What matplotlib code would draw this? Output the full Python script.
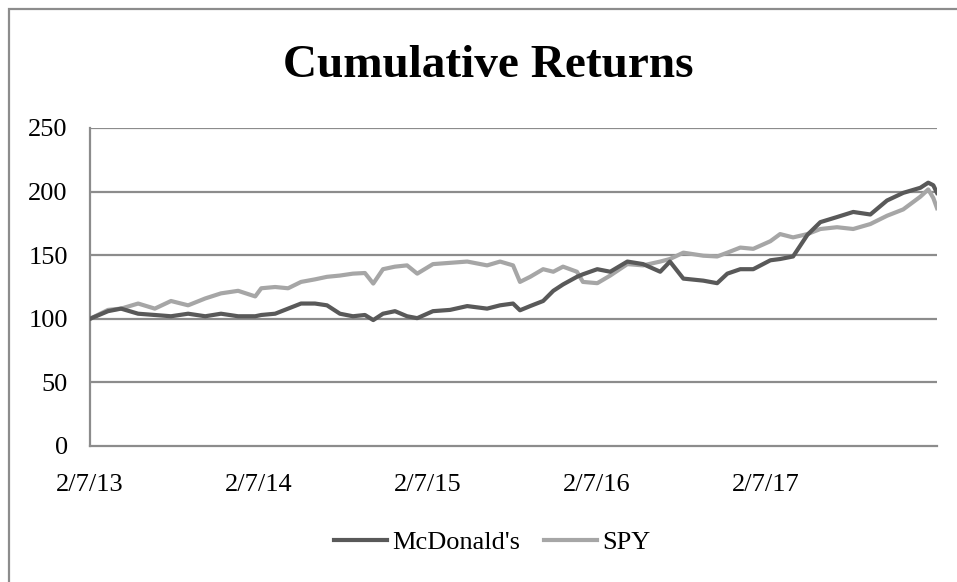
"""
Cumulative returns of McDonald's vs SPY, Excel-style line chart.
"""

import numpy as np
import pandas as pd
import matplotlib
matplotlib.use("Agg")
import matplotlib.pyplot as plt
import matplotlib.dates as mdates
from matplotlib.patches import Rectangle

# Sample dates
dates = [
    "2013-02-07", "2013-03-18", "2013-04-15", "2013-05-22", "2013-06-27", "2013-08-01",
    "2013-09-07", "2013-10-14", "2013-11-17", "2013-12-24", "2014-01-30", "2014-02-12",
    "2014-03-14", "2014-04-11", "2014-05-09", "2014-06-08", "2014-07-04", "2014-08-01",
    "2014-08-29", "2014-09-24", "2014-10-12", "2014-11-02", "2014-11-28", "2014-12-24",
    "2015-01-15", "2015-02-18", "2015-03-27", "2015-05-03", "2015-06-15", "2015-07-13",
    "2015-08-10", "2015-08-25", "2015-09-16", "2015-10-14", "2015-11-05", "2015-11-26",
    "2015-12-26", "2016-01-08", "2016-02-08", "2016-03-07", "2016-04-13", "2016-05-17",
    "2016-06-23", "2016-07-14", "2016-08-12", "2016-09-24", "2016-10-24", "2016-11-15",
    "2016-12-13", "2017-01-10", "2017-02-16", "2017-03-09", "2017-04-06", "2017-05-07",
    "2017-06-04", "2017-07-10", "2017-08-14", "2017-09-20", "2017-10-26", "2017-11-30",
    "2018-01-06", "2018-01-23", "2018-02-03", "2018-02-11",
]

mcd = [
    100, 106, 108, 104, 103, 102, 104, 102, 104, 102, 102, 103,
    104, 108, 112, 112, 110.6, 104, 102, 103, 99, 104, 106, 102,
    100.5, 106, 107, 110, 108, 110.6, 112, 106.7, 110, 114, 122, 127,
    133, 135, 139, 137, 145, 143, 137, 145, 131.6, 130, 128, 135.5,
    139, 139, 146, 147, 149, 166, 176, 180, 184, 182, 193, 199,
    203, 207, 205, 199,
]

spy = [
    100, 107, 108, 112, 108, 114, 110.6, 116, 120, 122, 117.6, 124,
    125, 124, 129, 131, 133, 134, 135.5, 136, 127.7, 139, 141, 142,
    135.5, 143, 144, 145, 142, 145, 142, 129, 133, 139, 137, 141,
    137, 129, 128, 134, 143, 142, 145, 147, 152, 149.6, 149, 152,
    156, 155, 161, 166.6, 164, 166.6, 170.6, 172, 170.6, 174.5, 181, 186,
    196, 201.7, 195, 187,
]

tick_dates = ["2013-02-07", "2014-02-07", "2015-02-07", "2016-02-07", "2017-02-07"]
tick_labels = ["2/7/13", "2/7/14", "2/7/15", "2/7/16", "2/7/17"]
y_ticks = [0, 50, 100, 150, 200, 250]

SERIF = ["Liberation Serif", "DejaVu Serif"]
GRID = "#8c8c8c"


def main():
    plt.rcParams["font.family"] = SERIF

    x = pd.to_datetime(dates)

    fig = plt.figure(figsize=(9.57, 5.82), dpi=100)
    ax = fig.add_axes([90 / 957, 1 - 446 / 582, (937 - 90) / 957, (446 - 128) / 582])

    # outer chart border (right/bottom edges cropped off in the original)
    fig.patches.append(Rectangle((9 / 957, -0.1), 1.2, 1 - 9 / 582 + 0.1,
                                 transform=fig.transFigure, fill=False,
                                 edgecolor=GRID, linewidth=1.6))

    for y in y_ticks[1:]:
        ax.axhline(y, color=GRID, linewidth=1.6, zorder=1)

    ax.plot(x, mcd, color="#595959", linewidth=3.0, label="McDonald's", zorder=3)
    ax.plot(x, spy, color="#a6a6a6", linewidth=3.0, label="SPY", zorder=2)

    ax.set_ylim(0, 250)
    ax.set_xlim(x[0], x[-1])
    ax.set_yticks(y_ticks)
    ax.set_xticks(pd.to_datetime(tick_dates))
    ax.set_xticklabels(tick_labels)
    ax.tick_params(axis="y", length=0, pad=16, labelsize=19)
    ax.tick_params(axis="x", length=0, pad=20, labelsize=19)

    for side in ["top", "right"]:
        ax.spines[side].set_visible(False)
    for side in ["left", "bottom"]:
        ax.spines[side].set_color(GRID)
        ax.spines[side].set_linewidth(1.6)

    fig.text(488 / 957, 1 - 66 / 582, "Cumulative Returns", ha="center", va="center",
             fontsize=34, fontweight="bold")

    fig.legend(loc="center", bbox_to_anchor=(492 / 957, 1 - 542 / 582), ncol=2,
               frameon=False, fontsize=19, handlelength=2.0, handletextpad=0.2,
               columnspacing=0.9)

    fig.savefig("out.png", dpi=100)
    plt.close(fig)


if __name__ == "__main__":
    main()
